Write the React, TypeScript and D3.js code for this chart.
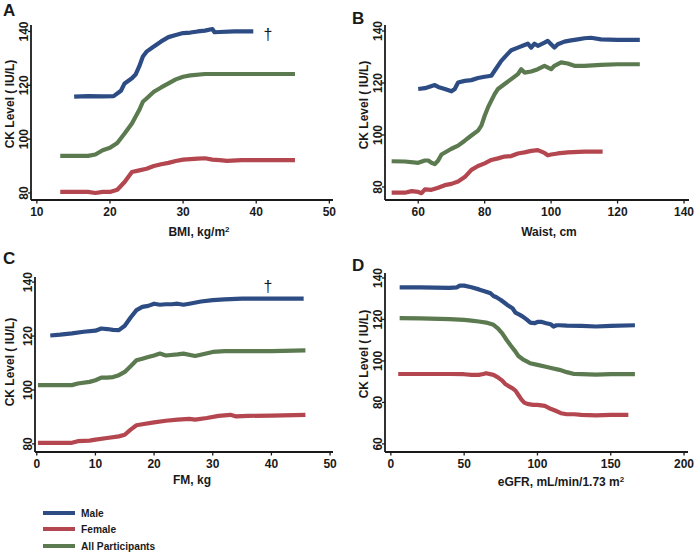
import React from "react";
import * as d3 from "d3";

// ---------------- DATA ----------------
const seriesNames = ["Male", "Female", "All Participants"];

// Panel A: BMI
const maleBmiX = [15.1, 17, 19, 20.5, 21.5, 22, 23, 23.5, 24, 24.5, 25, 26, 27, 28, 29, 30, 31, 32, 33, 34, 34.3, 35, 37, 39.6];
const maleBmiY = [115.8, 116, 115.9, 116, 118, 120.7, 122.6, 124, 127, 130.7, 132.5, 134.4, 136.3, 137.9, 138.7, 139.4, 139.6, 140, 140.3, 140.9, 139.7, 139.8, 140, 140];
const femaleBmiX = [13.2, 15, 17, 18, 19, 20, 21, 22, 23, 24, 25, 26, 27, 28, 29, 30, 32, 33, 34, 35, 36, 38, 45.3];
const femaleBmiY = [80.4, 80.4, 80.4, 80, 80.4, 80.4, 81.2, 84.1, 87.8, 88.4, 89, 90, 90.7, 91.2, 91.9, 92.4, 92.8, 92.9, 92.4, 92.2, 91.9, 92.2, 92.2];
const allBmiX = [13.2, 15, 17, 18, 19, 20, 21, 22, 23, 24, 24.5, 25, 26, 27, 28, 29, 30, 31, 33, 35, 40, 45.3];
const allBmiY = [93.8, 93.8, 93.8, 94.3, 95.9, 96.8, 98.6, 102.1, 105.8, 110.8, 113.9, 115.1, 117.6, 119.2, 120.7, 122.2, 123.2, 123.7, 124.2, 124.2, 124.2, 124.2];

// Panel B: Waist
const maleWaistX = [60, 62, 65, 66, 68, 70, 71, 72, 74, 76, 78, 80, 82, 83, 85, 87, 88, 90, 92, 93, 94, 95, 96, 98, 99, 100, 101, 102, 104, 106, 108, 110, 112, 115, 120, 126.7];
const maleWaistY = [117.7, 118, 119.2, 118.5, 117.7, 116.8, 117.7, 120.2, 120.8, 121.1, 121.9, 122.4, 122.8, 124.7, 128.5, 131.3, 132.6, 133.6, 134.6, 135.1, 133.6, 135.1, 134.3, 135.5, 136.2, 134.9, 133.6, 134.9, 135.9, 136.4, 136.8, 137.2, 137.4, 136.8, 136.6, 136.6];
const femaleWaistX = [52, 56, 58, 60, 61, 62, 64, 66, 68, 70, 72, 74, 76, 78, 80, 82, 84, 86, 88, 90, 92, 94, 96, 98, 99, 100, 102, 105, 110, 115.5];
const femaleWaistY = [77.8, 77.8, 78.4, 78.1, 77.6, 79.1, 78.9, 79.7, 80.7, 81.2, 82.1, 83.8, 86.6, 88.1, 89.1, 90.4, 91, 91.7, 91.9, 92.9, 93.3, 93.9, 94.2, 93.1, 92.2, 92.5, 92.9, 93.3, 93.6, 93.6];
const allWaistX = [52, 56, 60, 62, 63, 64, 65, 66, 67, 70, 72, 74, 76, 78, 79, 80, 81, 82, 83, 84, 86, 88, 90, 91, 92, 94, 96, 98, 100, 101, 103, 105, 107, 110, 115, 120, 126.7];
const allWaistY = [89.9, 89.8, 89.3, 90.2, 90.2, 89.3, 88.8, 90.2, 92.5, 94.7, 95.9, 97.8, 99.8, 101.7, 103.6, 107.4, 110.6, 113.2, 115.7, 117.7, 119.6, 121.5, 123.4, 125.3, 124, 124.4, 125.3, 126.6, 125.3, 126.6, 127.9, 127.5, 126.6, 126.6, 127, 127.2, 127.2];

// Panel C: FM
const maleFmX = [2.3, 4, 6, 8, 10, 11, 12, 13, 14, 15, 16, 17, 18, 19, 20, 21, 22, 23, 24, 25, 26, 28, 30, 32, 35, 40, 45.5];
const maleFmY = [120.2, 120.5, 121, 121.6, 122, 122.8, 122.6, 122.3, 122.2, 123.8, 126.9, 129.6, 130.8, 131.2, 132, 131.6, 131.8, 131.8, 132, 131.6, 132, 132.8, 133.3, 133.6, 133.9, 133.9, 133.9];
const femaleFmX = [0.2, 6, 7, 9, 10, 12, 14, 15, 16, 17, 18, 20, 22, 24, 26, 27, 29, 31, 33, 34, 36, 40, 45.8];
const femaleFmY = [80.4, 80.4, 81, 81.2, 81.6, 82.2, 82.8, 83.4, 85.3, 86.9, 87.3, 88, 88.6, 89, 89.3, 89, 89.6, 90.4, 90.8, 90.2, 90.4, 90.5, 90.8];
const allFmX = [0.2, 3, 6, 7, 9, 10, 11, 12, 13, 14, 15, 16, 17, 18, 19, 20, 21, 22, 24, 25, 27, 30, 32, 35, 40, 45.8];
const allFmY = [101.8, 101.8, 101.8, 102.4, 103, 103.6, 104.6, 104.6, 104.8, 105.5, 106.7, 108.8, 111, 111.6, 112.2, 112.8, 113.5, 112.8, 113.2, 113.5, 112.6, 114.1, 114.4, 114.4, 114.4, 114.7];

// Panel D: eGFR
const maleGfrX = [6, 20, 40, 45, 47, 50, 55, 60, 65, 68, 70, 72, 75, 78, 80, 83, 85, 88, 90, 93, 95, 98, 100, 103, 106, 109, 111, 113, 115, 120, 130, 140, 150, 166.5];
const maleGfrY = [135.5, 135.5, 135.2, 135.5, 136.3, 136.3, 135.5, 134.5, 133.4, 132.6, 131.3, 130.7, 129.4, 127.8, 126.7, 125.4, 123.3, 122.2, 121.4, 119.8, 118.5, 118.2, 118.8, 118.8, 118.2, 117.7, 116.6, 117.2, 117.2, 117, 116.9, 116.6, 116.9, 117.2];
const femaleGfrX = [5, 20, 40, 50, 55, 60, 63, 65, 70, 73, 76, 78, 80, 83, 85, 87, 89, 91, 93, 97, 100, 105, 108, 112, 116, 120, 125, 130, 140, 150, 162];
const femaleGfrY = [93.7, 93.7, 93.7, 93.6, 93.3, 93.3, 93.7, 94.1, 93.3, 92.1, 90.5, 88.9, 88, 86.8, 85.7, 83.6, 81.5, 79.9, 79.3, 78.8, 78.8, 78.3, 77.2, 76.1, 74.8, 74.3, 74.3, 74, 73.8, 74, 74];
const allGfrX = [6, 20, 40, 50, 55, 60, 65, 70, 73, 76, 79, 82, 85, 87, 90, 93, 95, 100, 105, 110, 115, 120, 125, 130, 140, 150, 166.5];
const allGfrY = [120.6, 120.5, 120.2, 119.8, 119.4, 119, 118.5, 117.4, 115.7, 113.3, 110.1, 107.2, 104.5, 102.4, 100.8, 99.7, 98.9, 98.1, 97.3, 96.5, 95.7, 94.6, 93.7, 93.6, 93.4, 93.6, 93.6];

// Tick values
const bmiTicks = [10, 20, 30, 40, 50];
const waistTicks = [60, 80, 100, 120, 140];
const fmTicks = [0, 10, 20, 30, 40, 50];
const gfrTicks = [0, 50, 100, 150, 200];
const ckTicks = [80, 100, 120, 140];
const ckTicksD = [60, 80, 100, 120, 140];

// ---------------- STYLE / LAYOUT ----------------
const COLORS = ["#2d4c84", "#b4464f", "#5b7a50"];
const FONT = "'Liberation Sans', Arial, Helvetica, sans-serif";
const INK = "#1a1a1a";

const zip = (xs: number[], ys: number[]) => xs.map((x, i) => [x, ys[i]] as [number, number]);

type PanelCfg = {
  letter: string;
  letterPos: [number, number];
  left: number; right: number; top: number; bottom: number;
  xDomain: [number, number]; yDomain: [number, number];
  xTicks: number[]; yTicks: number[];
  xTitle: React.ReactNode; xTitlePos: [number, number];
  yTitleX: number; yTitleY: number;
  series: [number, number][][];
  dagger?: [number, number];
};

const panels: PanelCfg[] = [
  {
    letter: "A", letterPos: [3, 16],
    left: 31, right: 333, top: 25, bottom: 200,
    xDomain: [9.2, 50.5], yDomain: [77.4, 142.4],
    xTicks: bmiTicks, yTicks: ckTicks,
    xTitle: <>BMI, kg/m<tspan dy={-4} fontSize={8}>2</tspan></>, xTitlePos: [199, 236],
    yTitleX: 14, yTitleY: 104,
    series: [zip(maleBmiX, maleBmiY), zip(femaleBmiX, femaleBmiY), zip(allBmiX, allBmiY)],
    dagger: [268, 40],
  },
  {
    letter: "B", letterPos: [352, 24],
    left: 385, right: 689, top: 25, bottom: 200,
    xDomain: [50, 141.5], yDomain: [75, 142.3],
    xTicks: waistTicks, yTicks: ckTicks,
    xTitle: <>Waist, cm</>, xTitlePos: [549, 236],
    yTitleX: 368, yTitleY: 105,
    series: [zip(maleWaistX, maleWaistY), zip(femaleWaistX, femaleWaistY), zip(allWaistX, allWaistY)],
  },
  {
    letter: "C", letterPos: [3, 264],
    left: 35, right: 333, top: 277, bottom: 452,
    xDomain: [-0.3, 50.5], yDomain: [77, 141.9],
    xTicks: fmTicks, yTicks: ckTicks,
    xTitle: <>FM, kg</>, xTitlePos: [192, 484],
    yTitleX: 14, yTitleY: 362,
    series: [zip(maleFmX, maleFmY), zip(femaleFmX, femaleFmY), zip(allFmX, allFmY)],
    dagger: [268, 292],
  },
  {
    letter: "D", letterPos: [352, 271],
    left: 385, right: 688, top: 273, bottom: 452,
    xDomain: [-4, 202.7], yDomain: [56.1, 142.4],
    xTicks: gfrTicks, yTicks: ckTicksD,
    xTitle: <>eGFR, mL/min/1.73 m<tspan dy={-4} fontSize={8}>2</tspan></>, xTitlePos: [561, 486],
    yTitleX: 368, yTitleY: 354,
    series: [zip(maleGfrX, maleGfrY), zip(femaleGfrX, femaleGfrY), zip(allGfrX, allGfrY)],
  },
];

function Panel({ cfg }: { cfg: PanelCfg }) {
  const x = d3.scaleLinear().domain(cfg.xDomain).range([cfg.left, cfg.right]);
  const y = d3.scaleLinear().domain(cfg.yDomain).range([cfg.bottom, cfg.top]);
  const line = d3.line<[number, number]>().x((d) => x(d[0])).y((d) => y(d[1])).curve(d3.curveLinear);
  const order = [2, 1, 0];
  return (
    <g>
      <text x={cfg.letterPos[0]} y={cfg.letterPos[1]} fontSize={17} fontWeight="bold" fill={INK}>{cfg.letter}</text>
      {/* series */}
      {order.map((i) => (
        <path key={i} d={line(cfg.series[i]) || ""} fill="none" stroke={COLORS[i]} strokeWidth={4.2} strokeLinejoin="round" />
      ))}
      {/* axes */}
      <line x1={cfg.left} x2={cfg.right} y1={cfg.bottom} y2={cfg.bottom} stroke={INK} strokeWidth={1.8} />
      <line x1={cfg.left} x2={cfg.left} y1={cfg.top} y2={cfg.bottom} stroke={INK} strokeWidth={1.8} />
      {cfg.xTicks.map((t) => (
        <g key={"x" + t}>
          <line x1={x(t)} x2={x(t)} y1={cfg.bottom} y2={cfg.bottom + 3.5} stroke={INK} strokeWidth={1.3} />
          <text x={x(t)} y={cfg.bottom + 16} textAnchor="middle" fontSize={12} fontWeight="bold" fill={INK}>{t}</text>
        </g>
      ))}
      {cfg.yTicks.map((t) => (
        <g key={"y" + t}>
          <line x1={cfg.left - 3} x2={cfg.left} y1={y(t)} y2={y(t)} stroke={INK} strokeWidth={1.3} />
          <text transform={`translate(${cfg.left - 3},${y(t)}) rotate(-90)`} textAnchor="middle" fontSize={12} fontWeight="bold" fill={INK}>{t}</text>
        </g>
      ))}
      <text x={cfg.xTitlePos[0]} y={cfg.xTitlePos[1]} textAnchor="middle" fontSize={12} fontWeight="bold" fill={INK}>{cfg.xTitle}</text>
      <text transform={`translate(${cfg.yTitleX},${cfg.yTitleY}) rotate(-90)`} textAnchor="middle" fontSize={12} fontWeight="bold" fill={INK}>CK Level ( IU/L)</text>
      {cfg.dagger && (
        <text x={cfg.dagger[0]} y={cfg.dagger[1]} textAnchor="middle" fontSize={16} fill={INK}>†</text>
      )}
    </g>
  );
}

export default function App() {
  const legendY = [513, 529, 546];
  return (
    <svg width={700} height={556} style={{ position: "absolute", left: 0, top: 0, background: "#fff" }} fontFamily={FONT}>
      <rect x={0} y={0} width={700} height={556} fill="#fff" />
      {panels.map((p) => <Panel key={p.letter} cfg={p} />)}
      {seriesNames.map((name, i) => (
        <g key={name}>
          <line x1={43} x2={75} y1={legendY[i]} y2={legendY[i]} stroke={COLORS[i]} strokeWidth={4} />
          <text x={81} y={legendY[i] + 4} fontSize={10.2} fontWeight="bold" fill={INK}>{name}</text>
        </g>
      ))}
    </svg>
  );
}
